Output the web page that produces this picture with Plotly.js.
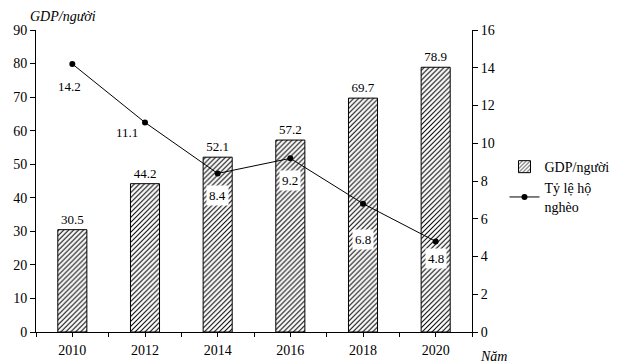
<!DOCTYPE html>
<html><head><meta charset="utf-8">
<script src="https://cdn.plot.ly/plotly-3.0.1.min.js"></script>
<style>body{margin:0;padding:0;background:#fff}#c{width:619px;height:364px}</style>
</head><body><div id="c"></div>
<script>
const years = [2010, 2012, 2014, 2016, 2018, 2020];
const yearLabels = ['2010','2012','2014','2016','2018','2020'];
const gdp = [30.5, 44.2, 52.1, 57.2, 69.7, 78.9];
const poverty = [14.2, 11.1, 8.4, 9.2, 6.8, 4.8];
const povLabelShift = [[-3,-23],[-18,-10],[0,-22],[0,-22],[0,-36],[0,-17]];

const serif = '"Liberation Serif", "Times New Roman", serif';
const font = {family:serif, size:14, color:'#000'};
const traces = [
  {type:'bar', x:years, y:gdp, name:'GDP/người', width:0.8,
   marker:{color:'#fff', line:{color:'#000', width:1},
     pattern:{shape:'/', fgcolor:'#000', bgcolor:'#fff', size:3.5, solidity:0.3}},
   text:gdp.map(v=>v.toFixed(1)), textposition:'outside', cliponaxis:false,
   textfont:{family:serif, size:13, color:'#000'}},
  {type:'scatter', mode:'lines+markers', x:years, y:poverty, yaxis:'y2', name:'Tỷ lệ hộ<br>nghèo',
   line:{color:'#000', width:1}, marker:{color:'#000', size:6}}
];
const annotations = poverty.map((v,i)=>({
  x:years[i], y:v, xref:'x', yref:'y2', text:v.toFixed(1), showarrow:false,
  xshift:povLabelShift[i][0], yshift:povLabelShift[i][1],
  bgcolor: i>=2 ? '#fff' : 'rgba(0,0,0,0)', borderpad:2,
  font:{family:serif, size:13, color:'#000'}
}));
annotations.push({x:0.01, y:1.0, xref:'paper', yref:'paper', xanchor:'left', yanchor:'bottom', yshift:4,
  text:'<i>GDP/người</i>', showarrow:false, font:font, xshift:-12});
annotations.push({x:1.0, y:0, xref:'paper', yref:'paper', xanchor:'left', yanchor:'top', yshift:-15, xshift:6,
  text:'<i>Năm</i>', showarrow:false, font:font});
const layout = {
  width:619, height:364, margin:{l:36, r:147, t:30, b:32},
  paper_bgcolor:'#fff', plot_bgcolor:'#fff', font:font,
  xaxis:{type:'linear', range:[2009,2021], autorange:false, tickvals:years, ticktext:yearLabels,
    showline:true, linecolor:'#000', linewidth:1, ticks:'outside', ticklen:4, tickcolor:'#000',
    minor:{ticks:'outside', ticklen:4, tick0:2009, dtick:2, tickcolor:'#000', showgrid:false},
    ticklabelstandoff:1, showgrid:false, tickfont:font, zeroline:false, tickangle:0},
  yaxis:{range:[0,90], autorange:false, dtick:10, showline:true, linecolor:'#000', ticks:'outside', ticklen:5, tickcolor:'#000',
    showgrid:false, zeroline:false, tickfont:font},
  yaxis2:{range:[0,16], autorange:false, dtick:2, overlaying:'y', side:'right', showline:true, linecolor:'#000', ticks:'outside',
    ticklen:5, tickcolor:'#000', showgrid:false, zeroline:false, tickfont:font},
  legend:{xref:'container', yref:'container', x:0.815, y:0.585, xanchor:'left', yanchor:'top', font:font,
    tracegroupgap:16, bgcolor:'rgba(0,0,0,0)'},
  annotations:annotations, showlegend:true
};
Plotly.newPlot('c', traces, layout, {displayModeBar:false, staticPlot:true});
</script></body></html>
